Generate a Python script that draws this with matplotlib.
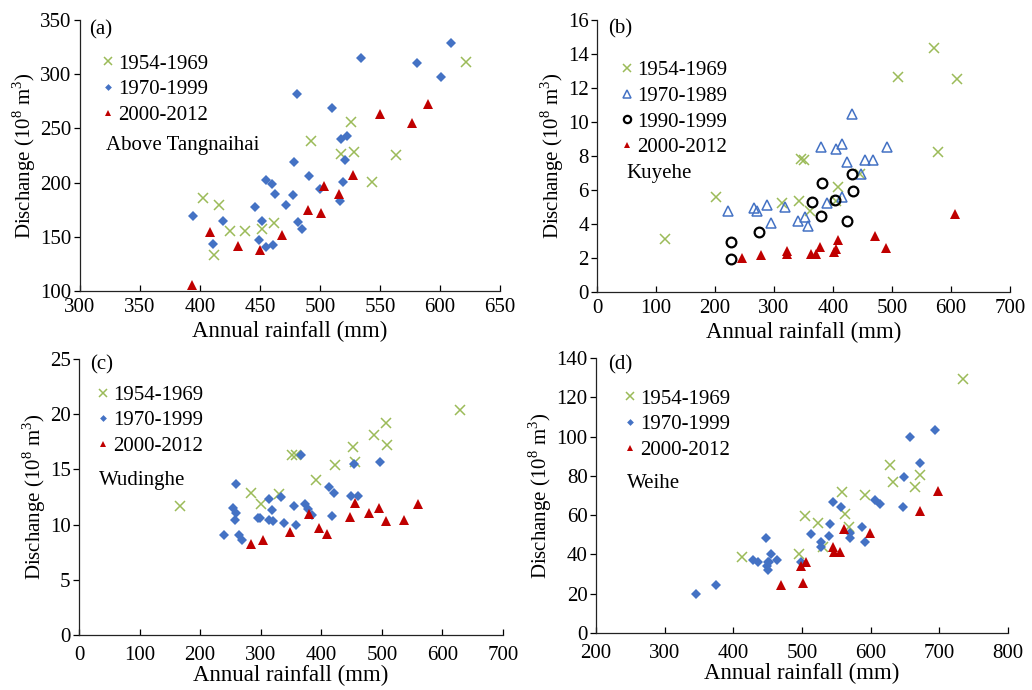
import numpy as np
import matplotlib
matplotlib.use('Agg')
import matplotlib.pyplot as plt

plt.rcParams['font.family'] = 'Liberation Serif'
plt.rcParams['mathtext.fontset'] = 'custom'
plt.rcParams['mathtext.rm'] = 'Liberation Serif'

GREEN = '#9BBB59'
BLUE = '#4472C4'
RED = '#C00000'

# ---------------- (a) Above Tangnaihai ----------------
a_5469_x = [402.9, 415.6, 412.0, 425.0, 437.6, 451.4, 461.9, 492.4, 525.8, 517.2, 528.5, 563.0, 543.4, 621.4]
a_5469_y = [185.5, 179.0, 133.0, 155.0, 155.5, 157.0, 163.0, 238.0, 256.0, 226.5, 228.0, 225.6, 201.0, 311.7]
a_7099_x = [394.0, 410.6, 419.0, 446.0, 449.0, 451.4, 455.0, 461.0, 455.0, 459.6, 462.4, 471.5, 477.8, 478.2, 481.0,
            481.4, 485.3, 490.5, 499.6, 509.8, 517.2, 522.7, 520.5, 518.9, 516.7, 534.0, 581.1, 601.0, 609.2]
a_7099_y = [169.0, 143.8, 164.5, 177.5, 147.5, 165.0, 140.4, 142.0, 202.5, 199.0, 189.8, 179.3, 188.6, 218.8, 282.0,
            163.6, 156.8, 205.8, 194.0, 268.5, 239.8, 243.2, 221.3, 200.3, 183.3, 315.0, 310.5, 297.0, 328.7]
a_0012_x = [393.5, 408.4, 432.0, 450.0, 468.7, 489.7, 500.7, 503.4, 515.6, 527.1, 549.7, 576.7, 590.2]
a_0012_y = [105.6, 154.3, 141.4, 138.0, 151.2, 174.7, 171.6, 197.2, 189.2, 207.0, 263.6, 255.2, 272.2]

# ---------------- (b) Kuyehe ----------------
b_5469_x = [115.9, 200.9, 312.9, 342.0, 346.6, 350.0, 361.8, 405.0, 408.0, 445.0, 509.8, 571.7, 578.0, 611.0]
b_5469_y = [3.09, 5.60, 5.25, 5.34, 7.85, 7.75, 4.79, 5.34, 6.20, 6.95, 12.62, 14.34, 8.24, 12.52]
b_7089_x = [222.3, 266.7, 271.0, 288.0, 295.0, 318.0, 341.0, 351.7, 357.3, 379.3,
            390.5, 405.7, 415.3, 415.3, 424.3, 431.6, 448.0, 454.0, 467.6, 490.7]
b_7089_y = [4.78, 4.93, 4.74, 5.10, 4.07, 5.00, 4.15, 4.42, 3.87, 8.51,
            5.24, 8.43, 8.73, 5.60, 7.63, 10.49, 6.97, 7.77, 7.77, 8.51]
b_9099_x = [226.8, 226.8, 275.2, 364.0, 379.3, 382.0, 403.0, 423.7, 432.2, 433.3]
b_9099_y = [2.95, 1.96, 3.50, 5.28, 4.48, 6.44, 5.42, 4.19, 6.97, 5.93]
b_0012_x = [245.4, 278.0, 321.3, 321.3, 363.5, 370.9, 377.6, 401.8, 405.2, 408.0, 472.0, 489.0, 606.6]
b_0012_y = [1.98, 2.17, 2.43, 2.21, 2.25, 2.25, 2.64, 2.35, 2.54, 3.07, 3.29, 2.56, 4.60]

# ---------------- (c) Wudinghe ----------------
c_5469_x = [166.9, 284.3, 299.7, 329.4, 352.0, 357.6, 390.6, 422.6, 452.3, 456.2, 486.5, 506.3, 508.5, 628.6]
c_5469_y = [11.66, 12.86, 11.87, 12.80, 16.33, 16.33, 14.07, 15.36, 17.02, 15.66, 18.13, 19.19, 17.17, 20.39]
c_7099_x = [239.7, 255.0, 258.4, 257.9, 258.4, 264.5, 269.4, 295.3, 299.2, 314.0, 318.5, 314.0, 320.0, 333.3,
            338.3, 354.8, 358.7, 367.0, 373.0, 377.4, 384.6, 413.2, 420.4, 418.2, 449.6, 460.6, 454.0, 497.0]
c_7099_y = [9.04, 11.54, 11.05, 10.39, 13.67, 9.10, 8.64, 10.63, 10.63, 12.35, 11.30, 10.45, 10.33, 12.50,
            10.15, 11.69, 9.97, 16.33, 11.84, 11.45, 10.87, 13.37, 12.89, 10.78, 12.62, 12.59, 15.45, 15.63]
c_0012_x = [283.7, 303.5, 348.8, 379.6, 396.1, 409.9, 447.4, 456.2, 479.3, 495.3, 506.9, 536.1, 559.2]
c_0012_y = [8.25, 8.58, 9.34, 10.93, 9.73, 9.16, 10.69, 11.96, 11.02, 11.48, 10.30, 10.42, 11.87]

# ---------------- (d) Weihe ----------------
d_5469_x = [412.4, 496.3, 504.1, 523.0, 530.3, 557.9, 563.3, 568.0, 592.3, 627.7, 632.6, 664.6, 672.4, 734.4]
d_5469_y = [38.8, 40.3, 59.8, 55.8, 43.7, 71.9, 60.5, 54.0, 70.2, 85.4, 76.8, 74.2, 80.2, 129.2]
d_7099_x = [346.0, 374.1, 428.9, 436.2, 450.7, 449.0, 447.3, 450.7, 452.2, 454.6, 464.3, 499.2, 512.8, 527.8,
            527.8, 540.0, 541.4, 545.8, 556.5, 569.5, 569.5, 587.0, 591.8, 606.4, 613.6, 647.1, 648.6, 656.8,
            672.4, 693.7]
d_7099_y = [19.7, 24.6, 37.3, 35.9, 36.4, 34.3, 48.3, 32.2, 36.1, 40.3, 37.3, 36.4, 50.5, 46.4,
            43.8, 49.2, 55.4, 66.6, 64.4, 51.1, 48.2, 54.2, 46.3, 67.6, 65.5, 64.1, 79.2, 99.8,
            86.8, 103.2]
d_0012_x = [470.1, 498.3, 502.1, 505.1, 545.3, 546.2, 555.0, 560.8, 598.6, 672.4, 697.6]
d_0012_y = [24.6, 34.2, 25.3, 35.9, 43.7, 41.2, 41.2, 52.9, 50.9, 62.0, 72.5]

W, H = 1032, 690
FS = 15


def px_axes(fig, left, top, right, bottom):
    return fig.add_axes([left / W, 1 - bottom / H, (right - left) / W, (bottom - top) / H])


def style_axes(ax, xlim, xticks, ylim, yticks, xpad=5, xlabelpad=3):
    ax.set_xlim(*xlim)
    ax.set_ylim(*ylim)
    ax.set_xticks(xticks)
    ax.set_yticks(yticks)
    for s in ['top', 'right']:
        ax.spines[s].set_visible(False)
    for s in ['left', 'bottom']:
        ax.spines[s].set_linewidth(0.9)
        ax.spines[s].set_color('#222222')
    ax.tick_params(axis='x', direction='in', length=4, width=0.9, labelsize=FS, pad=xpad)
    ax.tick_params(axis='y', direction='out', length=4, width=0.9, labelsize=FS, pad=2)
    ax.set_xlabel('Annual rainfall (mm)', fontsize=16.5, labelpad=xlabelpad)
    ax.set_ylabel('Dischange (10$^{8}$ m$^{3}$)', fontsize=FS, labelpad=1.5)


def green(ax, x, y):
    return ax.plot(x, y, ls='none', marker='x', ms=7, mew=1.1, color=GREEN, label='1954-1969')[0]


def blue(ax, x, y, label='1970-1999'):
    return ax.plot(x, y, ls='none', marker='D', ms=4.6, mew=0, color=BLUE, label=label)[0]


def red(ax, x, y):
    return ax.plot(x, y, ls='none', marker='^', ms=6.5, mew=0, color=RED, label='2000-2012')[0]


def add_legend(ax, handles, x0, y0):
    ax.legend(handles=handles, loc='upper left', bbox_to_anchor=(x0, y0), frameon=False,
              fontsize=FS, markerscale=0.75, handlelength=0.5, handletextpad=0.25,
              labelspacing=0.29, borderpad=0, borderaxespad=0)


fig = plt.figure(figsize=(W / 100, H / 100), dpi=100)

# Panel (a)
ax = px_axes(fig, 80, 20, 500, 291)
h = [green(ax, a_5469_x, a_5469_y), blue(ax, a_7099_x, a_7099_y), red(ax, a_0012_x, a_0012_y)]
style_axes(ax, (300, 650), np.arange(300, 651, 50), (100, 350), np.arange(100, 351, 50))
add_legend(ax, h, 0.054, 0.874)
ax.text(0.021, 0.963, '(a)', transform=ax.transAxes, fontsize=FS, va='center')
ax.text(0.062, 0.537, 'Above Tangnaihai', transform=ax.transAxes, fontsize=FS, va='center')

# Panel (b)
ax = px_axes(fig, 597, 20, 1010, 292)
h1 = green(ax, b_5469_x, b_5469_y)
h2 = ax.plot(b_7089_x, b_7089_y, ls='none', marker='^', ms=7, mew=1.1, mfc='none', mec=BLUE, label='1970-1989')[0]
h3 = ax.plot(b_9099_x, b_9099_y, ls='none', marker='o', ms=7, mew=1.6, mfc='none', mec='black', label='1990-1999')[0]
h4 = red(ax, b_0012_x, b_0012_y)
style_axes(ax, (0, 700), np.arange(0, 701, 100), (0, 16), np.arange(0, 17, 2))
add_legend(ax, [h1, h2, h3, h4], 0.060, 0.850)
ax.text(0.027, 0.967, '(b)', transform=ax.transAxes, fontsize=FS, va='center')
ax.text(0.072, 0.436, 'Kuyehe', transform=ax.transAxes, fontsize=FS, va='center')

# Panel (c)
ax = px_axes(fig, 79, 359, 503, 635)
h = [green(ax, c_5469_x, c_5469_y), blue(ax, c_7099_x, c_7099_y), red(ax, c_0012_x, c_0012_y)]
style_axes(ax, (0, 700), np.arange(0, 701, 100), (0, 25), np.arange(0, 26, 5), xpad=8, xlabelpad=0)
add_legend(ax, h, 0.044, 0.905)
ax.text(0.026, 0.978, '(c)', transform=ax.transAxes, fontsize=FS, va='center')
ax.text(0.046, 0.559, 'Wudinghe', transform=ax.transAxes, fontsize=FS, va='center')

# Panel (d)
ax = px_axes(fig, 596, 358, 1008, 633)
h = [green(ax, d_5469_x, d_5469_y), blue(ax, d_7099_x, d_7099_y), red(ax, d_0012_x, d_0012_y)]
style_axes(ax, (200, 800), np.arange(200, 801, 100), (0, 140), np.arange(0, 141, 20), xpad=8, xlabelpad=0)
add_legend(ax, h, 0.070, 0.887)
ax.text(0.029, 0.975, '(d)', transform=ax.transAxes, fontsize=FS, va='center')
ax.text(0.074, 0.544, 'Weihe', transform=ax.transAxes, fontsize=FS, va='center')

fig.savefig('out.png', dpi=100, facecolor='white')
